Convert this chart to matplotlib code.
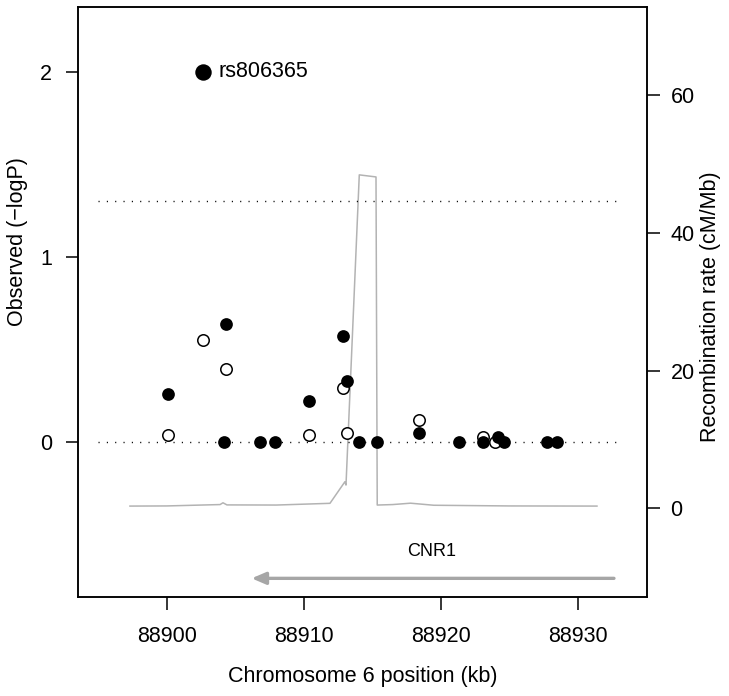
#Regional association plot around CNR1 (observed -logP + recombination rate)

import numpy as np
import matplotlib.pyplot as plt

plt.rcParams['font.family'] = ['Liberation Sans', 'DejaVu Sans']

#Top SNP
top_snp = "rs806365"
top_pos = 88902.65
top_val = 2.0

#Filled circles (position in kb, -logP)
filled_pos = [88900.12, 88904.33, 88904.16, 88906.81, 88907.90, 88910.39, 88912.89,
              88913.14, 88914.04, 88915.33, 88918.44, 88921.36, 88923.11, 88924.20,
              88924.64, 88927.74, 88928.47]
filled_val = [0.26, 0.635, 0.0, 0.0, 0.0, 0.22, 0.57,
              0.33, 0.0, 0.0, 0.045, 0.0, 0.0, 0.024,
              0.0, 0.0, 0.0]

#Open circles
open_pos = [88900.12, 88902.67, 88904.33, 88910.39, 88912.89, 88913.14, 88918.44,
            88923.11, 88924.00]
open_val = [0.035, 0.55, 0.395, 0.035, 0.29, 0.047, 0.117,
            0.024, 0.0]

#Recombination rate (cM/Mb)
recomb_pos = [88897.32, 88900.0, 88903.9, 88904.11, 88904.4, 88908.0, 88911.92,
              88913.01, 88913.09, 88914.06, 88915.28, 88915.37, 88916.5, 88917.8,
              88919.5, 88925.0, 88931.41]
recomb_rate = [0.33, 0.35, 0.55, 0.81, 0.5, 0.48, 0.73,
               3.86, 3.38, 48.4, 48.1, 0.48, 0.55, 0.75,
               0.45, 0.35, 0.33]

#Gene
gene_name = "CNR1"
gene_start = 88906.2
gene_end = 88932.65

#Thresholds (dotted lines)
thresholds = [0, 1.3]

fig = plt.figure(figsize=(7.29, 6.96), dpi=100)
ax = fig.add_axes([0.1074, 0.1422, 0.7801, 0.8477])
ax2 = ax.twinx()

#recombination line on the back axis
ax2.plot(recomb_pos, recomb_rate, color="#b3b3b3", lw=1.1)
ax2.set_ylim(-12.87, 72.76)
ax2.set_yticks([0, 20, 40, 60])
ax2.set_ylabel("Recombination rate (cM/Mb)", fontsize=15.5)
ax2.yaxis.set_label_coords(1.093, 0.4915)

ax.set_zorder(ax2.get_zorder() + 1)
ax.patch.set_visible(False)

for t in thresholds:
    ax.hlines(t, 88894.98, 88933.3, colors="black", linestyles=(0, (0.8, 5.2)), lw=1.0)

ax.scatter(open_pos, open_val, s=68, facecolor="white", edgecolor="black", lw=1.1, zorder=3)
ax.scatter(filled_pos, filled_val, s=84, color="black", lw=0, zorder=4)
ax.scatter([top_pos], [top_val], s=140, color="black", lw=0, zorder=4)
ax.text(top_pos + 1.1, top_val, top_snp, fontsize=15.5, va="center", ha="left")

#gene arrow
ax.annotate("", xy=(gene_start, -0.738), xytext=(gene_end, -0.738),
            arrowprops=dict(arrowstyle="-|>,head_length=0.7,head_width=0.3",
                            color="#a6a6a6", lw=2.4, mutation_scale=12,
                            shrinkA=0, shrinkB=0))
ax.text((gene_start + gene_end) / 2 - 0.1, -0.595, gene_name, fontsize=13,
        ha="center", va="center")

ax.set_xlim(88893.55, 88935.06)
ax.set_ylim(-0.839, 2.35)
ax.set_xticks([88900, 88910, 88920, 88930])
ax.set_yticks([0, 1, 2])
ax.set_xlabel("Chromosome 6 position (kb)", fontsize=15.5)
ax.xaxis.set_label_coords(0.5, -0.117)
ax.set_ylabel("Observed (\u2212logP)", fontsize=15.5)
ax.yaxis.set_label_coords(-0.0885, 0.603)

ax.tick_params(axis="x", length=9, width=1.1, pad=12, labelsize=15.5)
ax.tick_params(axis="y", length=9, width=1.1, pad=10, labelsize=15.5)
ax2.tick_params(axis="y", length=9, width=1.1, pad=8, labelsize=15.5)
for a in (ax, ax2):
    for s in a.spines.values():
        s.set_linewidth(1.1)

fig.savefig("out.png", dpi=100)
